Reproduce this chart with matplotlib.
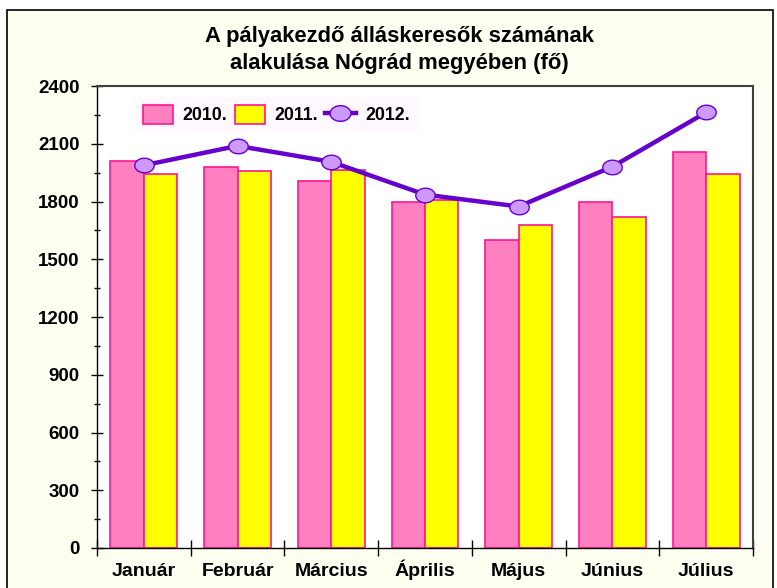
import numpy as np
import matplotlib.pyplot as plt
import matplotlib.patches as patches
from matplotlib.path import Path

plt.rcParams['font.family'] = ['Liberation Sans', 'DejaVu Sans']
plt.rcParams['font.weight'] = 'bold'

months = ['Január', 'Február', 'Március', 'Április', 'Május', 'Június', 'Július']
y2010 = [2012, 1978, 1908, 1797, 1600, 1795, 2056]
y2011 = [1942, 1960, 1962, 1806, 1678, 1721, 1942]
y2012 = [1988, 2089, 2006, 1836, 1774, 1981, 2263]
series_names = ['2010.', '2011.', '2012.']

# ellipse shaped marker
t = np.linspace(0, 2 * np.pi, 60)
ellipse = Path(np.column_stack([np.cos(t), 0.75 * np.sin(t)]), closed=True)

fig = plt.figure(figsize=(7.77, 5.88), dpi=100)
fig.patch.set_facecolor('white')

# cream chart area with black frame
frame = patches.Rectangle((7 / 777, -0.01), 766 / 777, 1 - 10 / 588 + 0.01,
                          transform=fig.transFigure, facecolor='#FFFFF2',
                          edgecolor='black', linewidth=1.2, zorder=-5)
fig.patches.append(frame)

ax = fig.add_axes([97 / 777, 1 - 548 / 588, 656 / 777, 462 / 588])
ax.set_facecolor('white')

x = np.arange(len(months))
w = 0.357
b1 = ax.bar(x - w / 2, y2010, w, color='#FF80C0', edgecolor='#FF1493', linewidth=1.2,
            label=series_names[0], zorder=2)
b2 = ax.bar(x + w / 2, y2011, w, color='#FFFF00', edgecolor='#FF1493', linewidth=1.2,
            label=series_names[1], zorder=2)
l3, = ax.plot(x, y2012, color='#6600CC', linewidth=3.2, marker=ellipse, markersize=14,
              markerfacecolor='#CC99FF', markeredgecolor='#6600CC', markeredgewidth=1,
              label=series_names[2], zorder=3)

ax.set_xlim(-0.5, len(months) - 0.5)
ax.set_ylim(0, 2400)
ax.set_yticks(np.arange(0, 2401, 300))
ax.set_yticks(np.arange(150, 2400, 300), minor=True)
ax.tick_params(axis='y', which='major', direction='inout', length=9, width=1,
               labelsize=13.5, pad=8)
ax.tick_params(axis='y', which='minor', direction='inout', length=5, width=1)

# category boundaries as x ticks, labels in the middle
ax.set_xticks(np.arange(-0.5, len(months) - 0.4, 1))
ax.set_xticklabels([])
ax.set_xticks(x, minor=True)
ax.set_xticklabels(months, minor=True, va='baseline')
ax.tick_params(axis='x', which='major', direction='inout', length=12, width=1)
ax.tick_params(axis='x', which='minor', length=0, labelsize=14, pad=20)

for side in ['top', 'right']:
    ax.spines[side].set_color('#404040')
    ax.spines[side].set_linewidth(1.5)
for side in ['left', 'bottom']:
    ax.spines[side].set_color('black')
    ax.spines[side].set_linewidth(1)

leg = ax.legend([b1, b2, l3], series_names, loc='upper left',
                bbox_to_anchor=(0.044, 0.996), ncol=3,
                frameon=True, fontsize=12.8, handlelength=1.7, handleheight=1.3,
                columnspacing=0.4, handletextpad=0.55, borderpad=0.45,
                fancybox=False)
leg.get_frame().set_facecolor('#FFF8FF')
leg.get_frame().set_edgecolor('none')
leg.legend_handles[2].set_markersize(15)

fig.text(0.514, 1 - 50 / 588, 'A pályakezdő álláskeresők számának\nalakulása Nógrád megyében (fő)',
         ha='center', va='center', fontsize=15.8, fontweight='bold', linespacing=1.4)

fig.savefig('out.png', dpi=100)
